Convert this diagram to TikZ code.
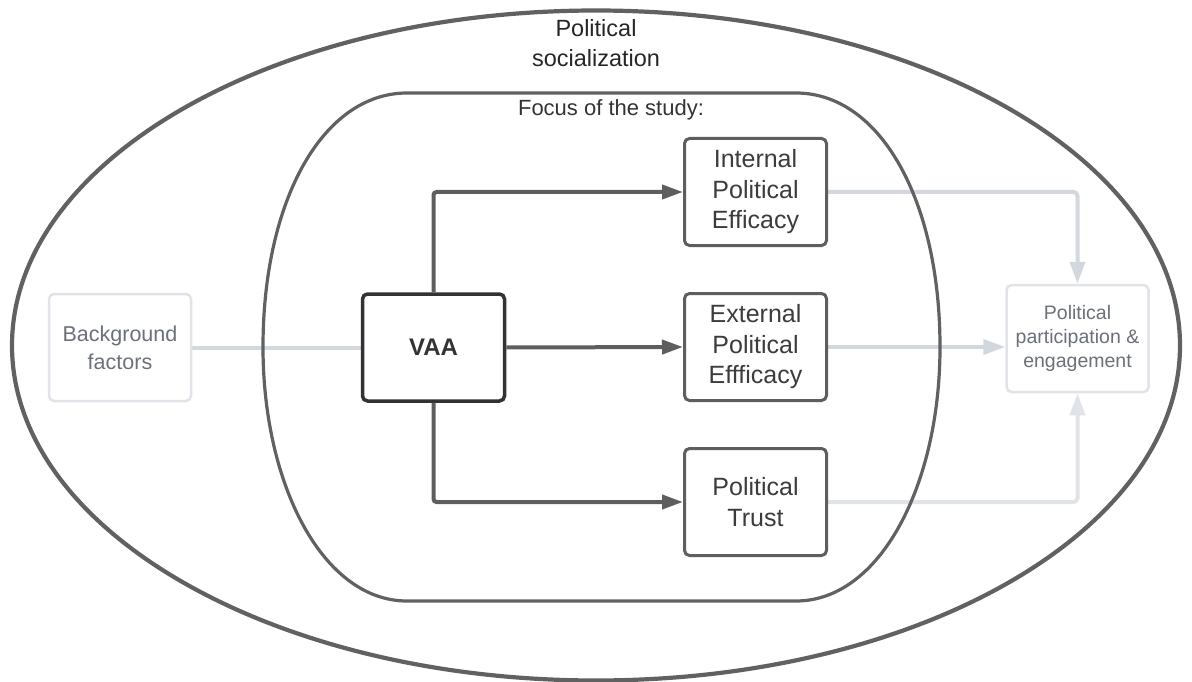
\documentclass[tikz,border=0pt]{standalone}
\usepackage{fontspec}
\setmainfont{Liberation Sans}
\usetikzlibrary{arrows.meta,backgrounds}
\definecolor{frame}{HTML}{616161}
\definecolor{boxline}{HTML}{5E5E5E}
\definecolor{boxtext}{HTML}{3C3C3C}
\definecolor{vaaline}{HTML}{333333}
\definecolor{light}{HTML}{D3D8DF}
\definecolor{lightbox}{HTML}{E0E3E8}
\definecolor{greytext}{HTML}{6B7079}
\begin{document}
\begin{tikzpicture}[x=1pt,y=-1pt,
  darkbox/.style={draw=boxline, line width=3pt, rounded corners=5pt, fill=white,
    minimum width=142pt, minimum height=107pt, align=center, text=boxtext,
    inner sep=0pt, font=\fontsize{25}{30.5}\selectfont},
  vaabox/.style={darkbox, draw=vaaline, line width=3.5pt, text=vaaline, font=\fontsize{24}{30}\selectfont\bfseries},
  lightbox/.style={draw=lightbox, line width=2.5pt, rounded corners=5pt, fill=white,
    minimum width=142pt, minimum height=107pt, align=center, text=greytext, inner sep=0pt},
  darkarrow/.style={draw=boxline, line width=4pt, rounded corners=3pt,
    -{Triangle[length=21pt,width=14pt]}},
  lightline/.style={draw=light, line width=4pt},
  lightarrow/.style={lightline, rounded corners=4pt, -{Triangle[length=22pt,width=15pt]}},
  label/.style={align=center, text=black!85}
]
\useasboundingbox (0,0) rectangle (1192,682);

% nodes
\node[darkbox] (ipe) at (755.5,192) {Internal\\Political\\Efficacy};
\node[darkbox] (epe) at (755.5,347) {External\\Political\\Effficacy};
\node[darkbox] (pt)  at (755.5,502) {Political\\Trust};
\node[vaabox]  (vaa) at (433.5,347.5) {VAA};
\node[lightbox, font=\fontsize{21.5}{28}\selectfont] (bg) at (120,347.5) {Background\\factors};
\node[lightbox, font=\fontsize{19.5}{24}\selectfont] (ppe) at (1077.5,338.5) {Political\\participation \&\\engagement};

\begin{pgfonlayer}{background}
% light connectors (under the frames)
\draw[lightline] (bg.east) -- (vaa.west);
\draw[lightarrow] (ipe.east) -| (ppe.north);
\draw[lightarrow] (epe.east) -- (epe.east -| ppe.west);
\draw[lightarrow, draw=lightbox] (pt.east) -| (ppe.south);
% frames
\draw[frame, line width=4.2pt] (596,345.5) ellipse [x radius=584, y radius=335];
\draw[frame, line width=3.2pt]
  (407,93) -- (796,93) .. controls (880,93) and (940,200) .. (940,347)
  .. controls (940,485) and (880,601) .. (796,601) -- (407,601)
  .. controls (323,601) and (263,485) .. (263,347)
  .. controls (263,200) and (323,93) .. (407,93) -- cycle;
\end{pgfonlayer}

% dark connectors
\draw[darkarrow] (vaa.north) |- (ipe.west);
\draw[darkarrow] (vaa.east) -- (epe.west);
\draw[darkarrow] (vaa.south) |- (pt.west);

% labels
\node[label, font=\fontsize{23.5}{30}\selectfont] (soc) at (596,43) {Political\\socialization};
\node[label, font=\fontsize{22}{26}\selectfont, text=black!80] (focus) at (611,110) {Focus of the study:};
\end{tikzpicture}
\end{document}
